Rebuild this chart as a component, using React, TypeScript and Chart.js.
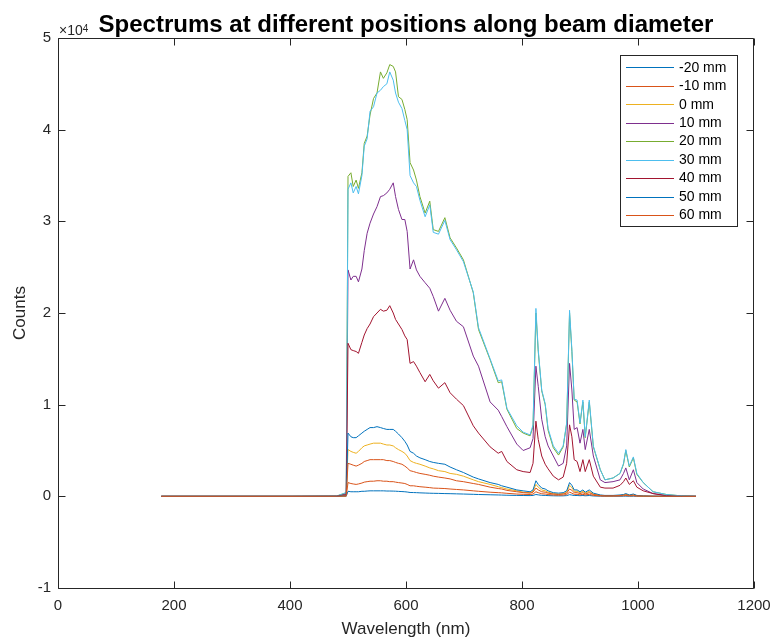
import React, { useEffect, useRef } from 'react';
import { Chart, registerables } from 'chart.js';

Chart.register(...registerables);

// Wavelength grid (nm)
const wavelengths = [
  178, 300, 400, 480, 497,
  500, 505, 509, 514, 518,
  524, 528, 533, 538, 544,
  550, 556, 561, 567, 572,
  578, 582, 587, 593, 598,
  602, 607, 613, 618, 624,
  633, 641, 647, 656, 667,
  676, 687, 699, 716, 725,
  745, 759, 765, 774, 791,
  802, 814, 819, 824, 828,
  834, 840, 845, 854, 863,
  871, 877, 882, 886, 890,
  895, 900, 905, 909, 916,
  923, 935, 943, 957, 969,
  975, 979, 985, 992, 998,
  1009, 1026, 1049, 1075, 1100,
];

const seriesLabels = ['-20 mm', '-10 mm', '0 mm', '10 mm', '20 mm', '30 mm', '40 mm', '50 mm', '60 mm'];
const seriesColors = ['#0072BD', '#D95319', '#EDB120', '#7E2F8E', '#77AC30', '#4DBEEE', '#A2142F', '#0072BD', '#D95319'];

const countsM20 = [
  0, 0, 0, 1, 10,
  550, 500, 500, 500, 500,
  550, 550, 580, 600, 600,
  600, 600, 600, 580, 580,
  570, 560, 540, 520, 500,
  470, 420, 410, 400, 380,
  360, 340, 330, 320, 300,
  290, 270, 250, 220, 200,
  170, 150, 140, 120, 100,
  90, 80, 100, 200, 160,
  110, 100, 80, 60, 50,
  55, 80, 180, 140, 90,
  90, 70, 90, 60, 90,
  40, 20, 10, 10, 10,
  15, 20, 10, 15, 5,
  0, 0, 0, 0, 0,
];

const countsM10 = [
  0, 0, 0, 2, 30,
  1500, 1400, 1350, 1300, 1350,
  1450, 1550, 1600, 1650, 1650,
  1700, 1700, 1650, 1650, 1600,
  1600, 1550, 1500, 1450, 1400,
  1300, 1150, 1150, 1100, 1050,
  1000, 950, 900, 880, 850,
  800, 750, 700, 600, 550,
  450, 400, 380, 330, 250,
  220, 200, 250, 500, 400,
  280, 250, 200, 150, 120,
  140, 200, 450, 350, 220,
  220, 160, 220, 150, 220,
  100, 40, 30, 30, 40,
  60, 80, 40, 60, 30,
  10, 0, 0, 0, 0,
];

const counts0 = [
  0, 0, 0, 5, 80,
  5100, 4900, 4800, 4700, 4900,
  5300, 5500, 5600, 5700, 5800,
  5800, 5800, 5700, 5600, 5600,
  5500, 5300, 5100, 4900, 4700,
  4400, 3900, 3700, 3600, 3500,
  3300, 3100, 3000, 2800, 2700,
  2500, 2400, 2200, 1800, 1600,
  1300, 1050, 950, 800, 600,
  450, 400, 550, 1300, 1000,
  700, 600, 450, 300, 250,
  300, 450, 1200, 950, 550,
  550, 400, 550, 350, 550,
  250, 100, 80, 80, 100,
  150, 220, 120, 180, 80,
  40, 10, 0, 0, 0,
];

const counts10 = [
  0, 0, 0, 15, 300,
  24700, 23600, 24000, 24000, 23400,
  24800, 26800, 28700, 29800, 30800,
  31600, 32700, 32800, 33100, 33500,
  34200, 32700, 31300, 30200, 30200,
  28900, 24800, 25800, 24700, 24000,
  23300, 22700, 21800, 20200, 21600,
  20300, 19100, 18500, 15300, 14200,
  10300, 9400, 8700, 7600, 5700,
  5000, 5300, 6300, 14200, 12000,
  8400, 6500, 5500, 4400, 3300,
  3600, 5500, 14500, 11600, 7300,
  7500, 5800, 7300, 5100, 7300,
  4400, 1800, 1500, 1600, 1800,
  2500, 3100, 1800, 2900, 1500,
  800, 300, 100, 30, 0,
];

const counts20 = [
  0, 0, 0, 20, 400,
  34900, 35300, 33800, 34500, 33600,
  35300, 38500, 39300, 41600, 43400,
  44000, 46300, 45600, 46200, 47100,
  46900, 46300, 43600, 43300, 42200,
  41100, 36400, 35600, 34500, 32700,
  30900, 32200, 29100, 28900, 30400,
  28200, 27100, 25800, 22200, 18200,
  14900, 12400, 12500, 9500, 7400,
  6900, 6600, 7600, 20000, 15800,
  11500, 10000, 7200, 5300, 4500,
  5400, 7900, 20000, 15800, 10500,
  10300, 7900, 10300, 6400, 10300,
  5400, 2900, 1800, 2000, 2500,
  3500, 5000, 3200, 4200, 2400,
  1500, 500, 200, 50, 0,
];

const counts30 = [
  0, 0, 0, 20, 400,
  33500, 34200, 33100, 33800, 33000,
  35000, 38200, 39000, 42000, 42500,
  44000, 44300, 44700, 45000, 46300,
  45400, 44000, 43000, 42300, 41000,
  40000, 35000, 34200, 33800, 32300,
  30500, 31800, 28800, 28600, 30100,
  28000, 26900, 25600, 22300, 18400,
  15000, 12600, 12700, 9600, 7700,
  7000, 6700, 7800, 20500, 16000,
  11600, 10100, 7400, 5500, 4700,
  5500, 8000, 20300, 16000, 10600,
  10500, 8000, 10500, 6500, 10500,
  5500, 2900, 1800, 2000, 2500,
  3600, 5100, 3300, 4300, 2500,
  1500, 500, 200, 50, 0,
];

const counts40 = [
  0, 0, 0, 10, 200,
  16700, 16000, 15900, 15800, 15600,
  16800, 17600, 18300, 18800, 19600,
  20000, 20400, 20200, 20300, 20800,
  20000, 19300, 18800, 18200, 17500,
  17100, 14500, 14700, 14200, 13500,
  12500, 13300, 12600, 11800, 12400,
  11300, 10600, 9900, 7700, 6900,
  5400, 4700, 4900, 3800, 2900,
  2700, 2600, 3600, 8200, 6200,
  4400, 3500, 3000, 2200, 1800,
  2100, 3600, 7800, 6500, 4000,
  3800, 2700, 4000, 2700, 4000,
  2200, 1000, 900, 900, 1200,
  1600, 2000, 1300, 1700, 1000,
  600, 300, 50, 0, 0,
];

const counts50 = [
  0, 0, 0, 5, 100,
  6900, 6500, 6400, 6400, 6600,
  6900, 7100, 7300, 7500, 7500,
  7600, 7500, 7400, 7300, 7300,
  7300, 7100, 6800, 6400, 6000,
  5600, 4900, 4700, 4400, 4200,
  4000, 3800, 3700, 3600, 3500,
  3200, 2900, 2600, 2100, 1900,
  1500, 1300, 1150, 1000, 700,
  600, 500, 700, 1700, 1300,
  900, 800, 600, 400, 350,
  400, 600, 1500, 1200, 700,
  700, 500, 700, 450, 700,
  350, 150, 100, 100, 150,
  200, 300, 150, 250, 100,
  50, 20, 0, 0, 0,
];

const counts60 = [
  0, 0, 0, 5, 60,
  3600, 3500, 3400, 3300, 3400,
  3600, 3800, 3900, 4000, 4000,
  4000, 4000, 4000, 3900, 3900,
  3800, 3700, 3600, 3500, 3300,
  3100, 2800, 2700, 2600, 2500,
  2400, 2300, 2200, 2100, 2000,
  1900, 1700, 1600, 1400, 1300,
  1000, 850, 800, 650, 500,
  400, 350, 450, 900, 700,
  500, 450, 350, 250, 200,
  250, 350, 800, 650, 400,
  400, 300, 400, 250, 400,
  200, 80, 60, 60, 80,
  120, 160, 90, 130, 60,
  30, 10, 0, 0, 0,
];

const seriesValues = [countsM20, countsM10, counts0, counts10, counts20, counts30, counts40, counts50, counts60];

const xTicks = [0, 200, 400, 600, 800, 1000, 1200];
const yTicks = [-10000, 0, 10000, 20000, 30000, 40000, 50000];

const TITLE = 'Spectrums at different positions along beam diameter';
const X_TITLE = 'Wavelength (nm)';
const Y_TITLE = 'Counts';

const AXIS_COLOR = '#262626';
const FONT = '"Liberation Sans", Arial, Helvetica, sans-serif';

const matlabPlugin = {
  id: 'matlabDecor',
  afterDraw(chart: any) {
    const ctx = chart.ctx as CanvasRenderingContext2D;
    const { left, right, top, bottom } = chart.chartArea;
    const xs = chart.scales.x;
    const ys = chart.scales.y;
    ctx.save();
    ctx.strokeStyle = AXIS_COLOR;
    ctx.lineWidth = 1;
    const L = Math.round(left) + 0.5;
    const R = Math.round(right) - 0.5;
    const T = Math.round(top) + 0.5;
    const B = Math.round(bottom) + 0.5;
    ctx.beginPath();
    ctx.moveTo(L, T);
    ctx.lineTo(R, T);
    ctx.lineTo(R, B);
    ctx.lineTo(L, B);
    ctx.closePath();
    ctx.stroke();
    const tl = 7;
    ctx.beginPath();
    xTicks.forEach((v) => {
      const px = Math.round(xs.getPixelForValue(v)) + 0.5;
      ctx.moveTo(px, B);
      ctx.lineTo(px, B - tl);
      ctx.moveTo(px, T);
      ctx.lineTo(px, T + tl);
    });
    yTicks.forEach((v) => {
      const py = Math.round(ys.getPixelForValue(v)) + 0.5;
      ctx.moveTo(L, py);
      ctx.lineTo(L + tl, py);
      ctx.moveTo(R, py);
      ctx.lineTo(R - tl, py);
    });
    ctx.stroke();

    // Title
    ctx.fillStyle = '#000000';
    ctx.font = `bold 24px ${FONT}`;
    ctx.textAlign = 'center';
    ctx.textBaseline = 'alphabetic';
    ctx.fillText(TITLE, (left + right) / 2, 32);

    // Exponent label
    ctx.fillStyle = AXIS_COLOR;
    ctx.textAlign = 'left';
    ctx.font = `14px ${FONT}`;
    ctx.fillText('\u00d710', 59, 35);
    const w = ctx.measureText('\u00d710').width;
    ctx.font = `10px ${FONT}`;
    ctx.fillText('4', 59 + w, 32);

    // Axis titles
    ctx.font = `17px ${FONT}`;
    ctx.textAlign = 'center';
    ctx.fillText(X_TITLE, (left + right) / 2, 634);
    ctx.save();
    ctx.translate(25, (top + bottom) / 2);
    ctx.rotate(-Math.PI / 2);
    ctx.fillText(Y_TITLE, 0, 0);
    ctx.restore();

    // Legend
    const bx = 620.5, by = 55.5, bw = 117, bh = 171;
    ctx.fillStyle = '#ffffff';
    ctx.fillRect(bx, by, bw, bh);
    ctx.strokeStyle = AXIS_COLOR;
    ctx.strokeRect(bx, by, bw, bh);
    ctx.font = `14px ${FONT}`;
    ctx.textAlign = 'left';
    ctx.textBaseline = 'middle';
    seriesLabels.forEach((lab, i) => {
      const y = 67.3 + i * 18.46;
      const yy = Math.round(y) + 0.5;
      ctx.strokeStyle = seriesColors[i];
      ctx.beginPath();
      ctx.moveTo(626, yy);
      ctx.lineTo(674, yy);
      ctx.stroke();
      ctx.fillStyle = '#000000';
      ctx.fillText(lab, 679, y + 0.5);
    });
    ctx.restore();
  },
};

export default function App() {
  const canvasRef = useRef<HTMLCanvasElement | null>(null);

  useEffect(() => {
    if (!canvasRef.current) return;
    const datasets = seriesLabels.map((label, i) => ({
      label,
      data: wavelengths.map((x, j) => ({ x, y: seriesValues[i][j] })),
      borderColor: seriesColors[i],
      backgroundColor: seriesColors[i],
      borderWidth: 1,
      pointRadius: 0,
      tension: 0,
      fill: false,
      order: seriesLabels.length - i,
    }));
    const chart = new Chart(canvasRef.current, {
      type: 'line',
      data: { datasets },
      options: {
        responsive: false,
        animation: false,
        devicePixelRatio: 1,
        layout: { padding: { left: 0, top: 38, right: 18, bottom: 0 } },
        plugins: {
          legend: { display: false },
          title: { display: false },
          tooltip: { enabled: false },
        },
        scales: {
          x: {
            type: 'linear',
            min: 0,
            max: 1200,
            afterFit: (s: any) => { s.height = 54; s.paddingLeft = 0; s.paddingRight = 0; },
            afterBuildTicks: (s: any) => { s.ticks = xTicks.map((v) => ({ value: v })); },
            grid: { display: false, drawTicks: false },
            border: { display: false },
            ticks: {
              maxRotation: 0,
              autoSkip: false,
              padding: 9,
              color: AXIS_COLOR,
              font: { family: FONT, size: 15 },
              callback: (v: any) => String(v),
            },
          },
          y: {
            type: 'linear',
            min: -10000,
            max: 50000,
            afterFit: (s: any) => { s.width = 58; s.paddingTop = 0; s.paddingBottom = 0; },
            afterBuildTicks: (s: any) => { s.ticks = yTicks.map((v) => ({ value: v })); },
            grid: { display: false, drawTicks: false },
            border: { display: false },
            ticks: {
              padding: 7,
              color: AXIS_COLOR,
              font: { family: FONT, size: 15 },
              callback: (v: any) => String(Number(v) / 10000),
            },
          },
        },
      },
      plugins: [matlabPlugin],
    } as any);
    return () => chart.destroy();
  }, []);

  return (
    <div style={{ position: 'absolute', left: 0, top: 0, width: 772, height: 642, background: '#ffffff' }}>
      <canvas ref={canvasRef} width={772} height={642} style={{ display: 'block' }} />
    </div>
  );
}
